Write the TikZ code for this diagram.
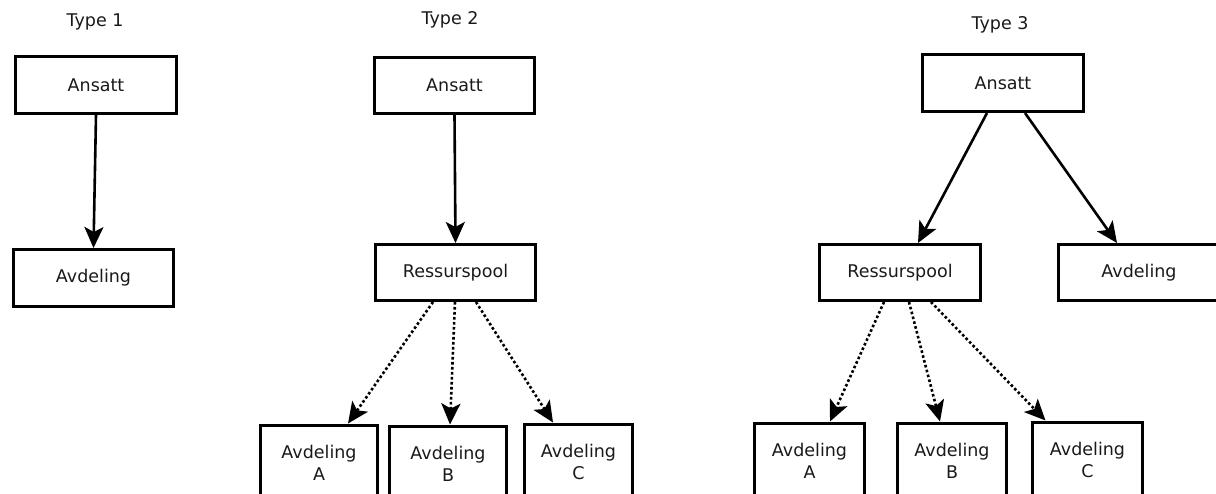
\documentclass[tikz,border=0pt]{standalone}
\usepackage{fontspec}
\setmainfont{DejaVu Sans}
\usetikzlibrary{arrows.meta}
\begin{document}
\begin{tikzpicture}[x=1pt,y=-1pt,
  every node/.style={font=\fontsize{17.5}{22}\selectfont, text=black!90},
  bx/.style={draw, line width=3pt, inner sep=0pt, align=center},
  title/.style={anchor=base},
  arr/.style={-{Stealth[length=21pt,width=19pt,inset=5pt]}, line width=2.6pt},
  dots/.style={arr, dash pattern=on 2.6pt off 2.4pt}]
\useasboundingbox (0,0) rectangle (1216,493);
\clip (0,0) rectangle (1216,493);

% Type 1: employee attached directly to a department
\node[title] (t1) at (95,26) {Type 1};
\node[bx, minimum width=161, minimum height=57] (a1) at (96,85) {Ansatt};
\node[bx, minimum width=160, minimum height=57] (d1) at (93.5,278) {Avdeling};
\draw[arr] (a1.south) -- (d1.north);

% Type 2: employee in a resource pool serving several departments
\node[title] (t2) at (450,24) {Type 2};
\node[bx, minimum width=160, minimum height=56] (a2) at (454.5,85.5) {Ansatt};
\node[bx, minimum width=160, minimum height=56] (r2) at (455.5,272.5) {Ressurspool};
\node[bx, minimum width=117, minimum height=76, anchor=north] (pa2) at (319,423.5) {Avdeling\\A};
\node[bx, minimum width=117, minimum height=76, anchor=north] (pb2) at (448,424.5) {Avdeling\\B};
\node[bx, minimum width=108, minimum height=76, anchor=north] (pc2) at (578.5,422.5) {Avdeling\\C};
\draw[arr] (a2.south) -- (r2.north);
\draw[dots] ([xshift=-22.5pt]r2.south) -- ([xshift=29pt]pa2.north);
\draw[dots] ([xshift=-0.5pt]r2.south) -- ([xshift=2pt]pb2.north);
\draw[dots] ([xshift=20.5pt]r2.south) -- ([xshift=-25.5pt]pc2.north);

% Type 3: employee in both a department and the resource pool
\node[title] (t3) at (1000,29) {Type 3};
\node[bx, minimum width=161, minimum height=57] (a3) at (1003,83) {Ansatt};
\node[bx, minimum width=161, minimum height=56] (r3) at (900,272.5) {Ressurspool};
\node[bx, minimum width=161, minimum height=56] (d3) at (1139,272.5) {Avdeling};
\node[bx, minimum width=110, minimum height=76, anchor=north] (pa3) at (809.5,421.5) {Avdeling\\A};
\node[bx, minimum width=109, minimum height=76, anchor=north] (pb3) at (952,421.5) {Avdeling\\B};
\node[bx, minimum width=110, minimum height=76, anchor=north] (pc3) at (1087.5,420.5) {Avdeling\\C};
\draw[arr] ([xshift=-16pt]a3.south) -- ([xshift=18pt]r3.north);
\draw[arr] ([xshift=22pt]a3.south) -- ([xshift=-22pt]d3.north);
\draw[dots] ([xshift=-16pt]r3.south) -- ([xshift=20.5pt]pa3.north);
\draw[dots] ([xshift=9pt]r3.south) -- ([xshift=-12pt]pb3.north);
\draw[dots] ([xshift=31pt]r3.south) -- ([xshift=-42pt]pc3.north);
\end{tikzpicture}
\end{document}
